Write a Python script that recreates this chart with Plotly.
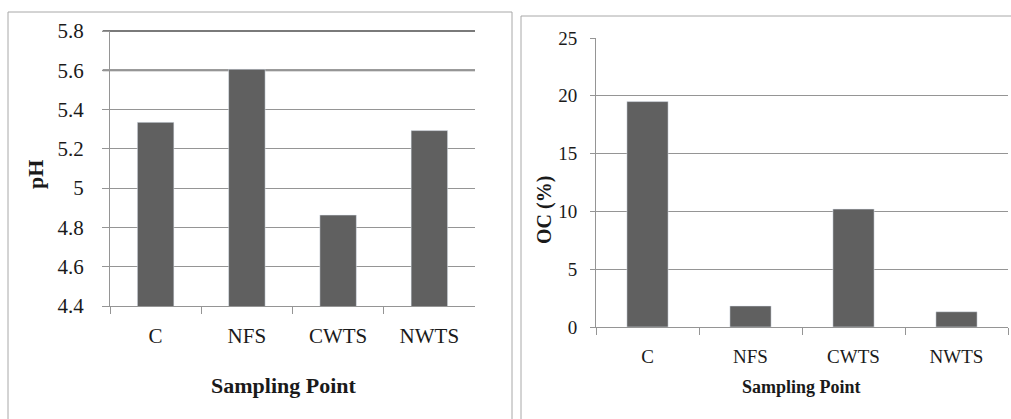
import plotly.graph_objects as go

categories = ["C", "NFS", "CWTS", "NWTS"]
ph_values = [5.335, 5.605, 4.863, 5.293]
oc_values = [19.5, 1.82, 10.2, 1.32]
ph_ticks = [4.4, 4.6, 4.8, 5.0, 5.2, 5.4, 5.6, 5.8]
ph_ticktext = ["4.4", "4.6", "4.8", "5", "5.2", "5.4", "5.6", "5.8"]
oc_ticks = [0, 5, 10, 15, 20, 25]

W, H = 1011, 419
def px(x): return x / W
def py(y): return 1 - y / H

BAR = "#606060"
GRID = "#959595"
TXT = "#1a1a1a"
FONT = "Liberation Serif, Times New Roman, Times, serif"

fig = go.Figure()
fig.add_trace(go.Bar(x=categories, y=ph_values, marker_color=BAR, xaxis="x", yaxis="y", width=0.4))
fig.add_trace(go.Bar(x=categories, y=oc_values, marker_color=BAR, xaxis="x2", yaxis="y2", width=0.4))

common_x = dict(type="category", showgrid=False, showline=True, linecolor=GRID, linewidth=1,
                ticks="outside", ticklen=7, tickcolor=GRID, tickson="boundaries", fixedrange=True)
common_y = dict(showgrid=True, gridcolor=GRID, gridwidth=1, showline=True, linecolor=GRID,
                ticks="outside", tickcolor=GRID, zeroline=False, fixedrange=True)

fig.update_layout(
    width=W, height=H, margin=dict(l=0, r=0, t=0, b=0, autoexpand=False),
    paper_bgcolor="white", plot_bgcolor="white", showlegend=False, bargap=0.6,
    font=dict(family=FONT),
    xaxis=dict(domain=[px(110), px(475)], anchor="y", ticklabelstandoff=11,
               tickfont=dict(family=FONT, size=21, color=TXT), **common_x),
    yaxis=dict(domain=[py(306), py(31)], anchor="x", range=[4.4, 5.8], tickvals=ph_ticks,
               ticktext=ph_ticktext, ticklen=7, ticklabelstandoff=14,
               tickfont=dict(family=FONT, size=21, color=TXT), **common_y),
    xaxis2=dict(domain=[px(596), px(1008)], anchor="y2", ticklabelstandoff=12,
                tickfont=dict(family=FONT, size=19, color=TXT), **common_x),
    yaxis2=dict(domain=[py(327), py(38)], anchor="x2", range=[0, 25], tickvals=oc_ticks,
                ticklen=5, ticklabelstandoff=9,
                tickfont=dict(family=FONT, size=19, color=TXT), **common_y),
)

fig.add_shape(type="rect", xref="paper", yref="paper", x0=px(8), x1=px(512), y0=py(430), y1=py(12),
              line=dict(color="#a8a8a8", width=1), fillcolor="rgba(0,0,0,0)", layer="below")
fig.add_shape(type="rect", xref="paper", yref="paper", x0=px(521), x1=px(1020), y0=py(430), y1=py(16),
              line=dict(color="#a8a8a8", width=1), fillcolor="rgba(0,0,0,0)", layer="below")
# darker top gridlines as in the reference
fig.add_shape(type="line", xref="x domain", yref="y domain", x0=-0.02, x1=1, y0=1, y1=1,
              line=dict(color="#7a7a7a", width=2), layer="below")
fig.add_shape(type="line", xref="x domain", yref="y", x0=-0.02, x1=1, y0=ph_ticks[-2], y1=ph_ticks[-2],
              line=dict(color="#7a7a7a", width=2), layer="below")

fig.add_annotation(text="<b>Sampling Point</b>", xref="paper", yref="paper", x=px(284), y=py(385),
                   showarrow=False, font=dict(family=FONT, size=22, color=TXT),
                   xanchor="center", yanchor="middle")
fig.add_annotation(text="<b>pH</b>", xref="paper", yref="paper", x=px(35), y=py(175),
                   showarrow=False, font=dict(family=FONT, size=22, color=TXT), textangle=-90,
                   xanchor="center", yanchor="middle")
fig.add_annotation(text="<b>Sampling Point</b>", xref="paper", yref="paper", x=px(801), y=py(387),
                   showarrow=False, font=dict(family=FONT, size=18, color=TXT),
                   xanchor="center", yanchor="middle")
fig.add_annotation(text="<b>OC (%)</b>", xref="paper", yref="paper", x=px(544), y=py(210),
                   showarrow=False, font=dict(family=FONT, size=20, color=TXT), textangle=-90,
                   xanchor="center", yanchor="middle")

fig.write_html("out.html", config={"displayModeBar": False},
               post_script="document.body.style.margin='0';document.body.style.overflow='hidden';")
